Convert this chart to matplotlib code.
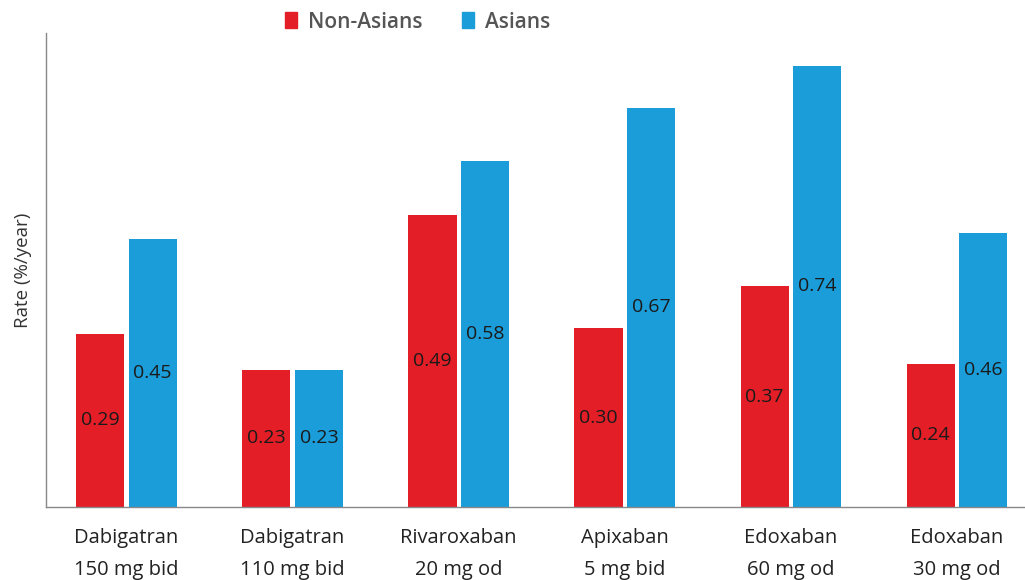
import numpy as np
import matplotlib
matplotlib.use("Agg")
import matplotlib.pyplot as plt
from matplotlib.patches import Patch

drugs = ["Dabigatran\n150 mg bid", "Dabigatran\n110 mg bid", "Rivaroxaban\n20 mg od",
         "Apixaban\n5 mg bid", "Edoxaban\n60 mg od", "Edoxaban\n30 mg od"]
non_asians = [0.29, 0.23, 0.49, 0.30, 0.37, 0.24]
asians = [0.45, 0.23, 0.58, 0.67, 0.74, 0.46]

red = "#e31e26"
blue = "#1a9dd9"

plt.rcParams["font.family"] = ["Open Sans", "DejaVu Sans"]

fig = plt.figure(figsize=(10.25, 5.8), dpi=100)
ax = fig.add_axes([0.045, 0.126, 0.955, 0.817])

x = np.arange(len(drugs))
w = 0.29
off = 0.158
b1 = ax.bar(x - off, non_asians, w, color=red)
b2 = ax.bar(x + off, asians, w, color=blue)

for bars, vals in ((b1, non_asians), (b2, asians)):
    for b, v in zip(bars, vals):
        ax.text(b.get_x() + b.get_width() / 2, v / 2, f"{v:.2f}",
                ha="center", va="center", fontsize=14, color="#1a1a1a")

ax.set_xlim(-0.484, 5.41)
ax.set_ylim(0, 0.795)
ax.set_yticks([])
ax.set_xticks(x)
ax.set_xticklabels(drugs, fontsize=14.5, color="#222222", linespacing=1.8)
ax.tick_params(axis="x", length=0, pad=15)
ax.set_ylabel("Rate (%/year)", fontsize=13.5, color="#333333", labelpad=10)

for s in ("top", "right"):
    ax.spines[s].set_visible(False)
for s in ("left", "bottom"):
    ax.spines[s].set_color("#888888")
    ax.spines[s].set_linewidth(1.0)

handles = [Patch(color=red, label="Non-Asians"), Patch(color=blue, label="Asians")]
fig.legend(handles=handles, loc="center", bbox_to_anchor=(0.407, 0.962), ncol=2,
           frameon=False, handlelength=0.6, handleheight=0.8,
           handletextpad=0.5, columnspacing=1.9,
           prop={"weight": "semibold", "size": 15}, labelcolor="#555555")

fig.savefig("out.png", dpi=100)
